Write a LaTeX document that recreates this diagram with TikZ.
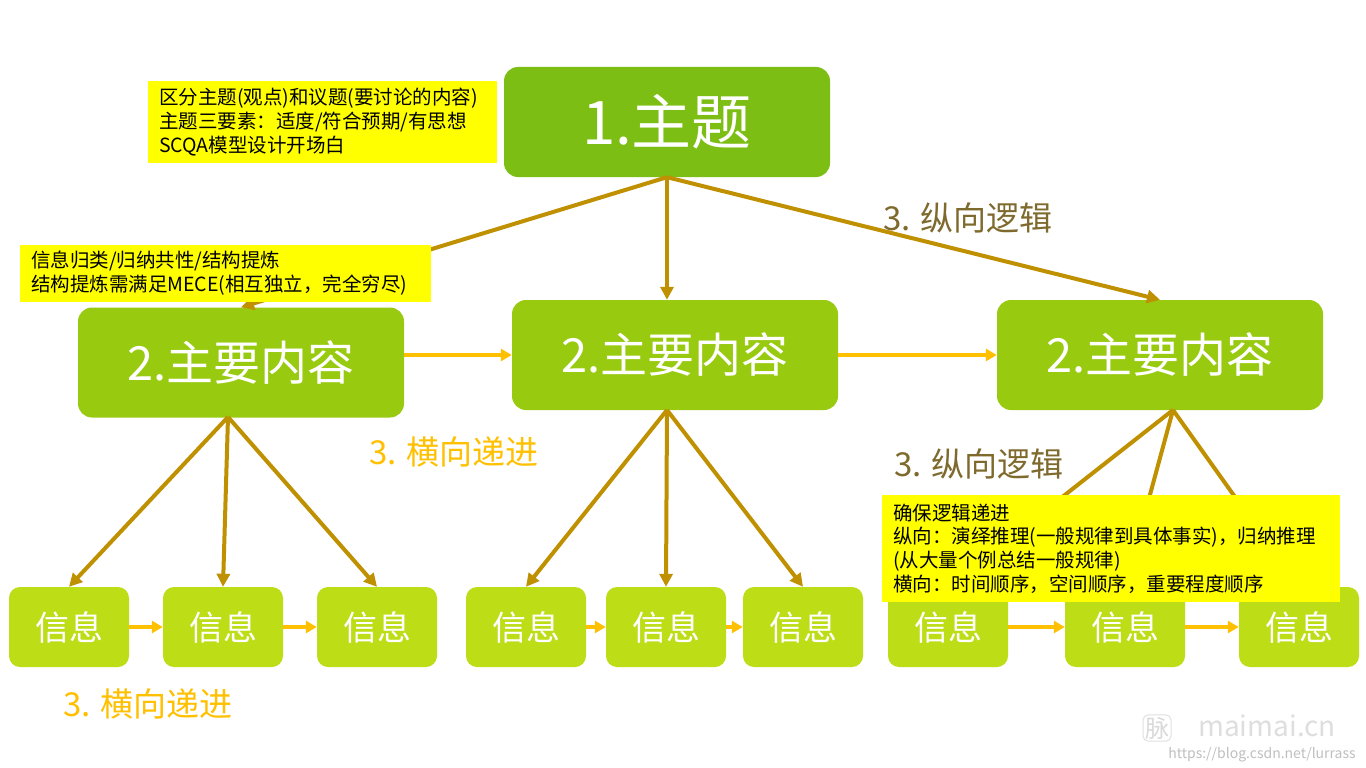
\documentclass[tikz,border=0pt]{standalone}
\usepackage{fontspec}
\setmainfont{Noto Sans CJK SC}
\usetikzlibrary{arrows.meta}
\definecolor{topicgreen}{HTML}{7DBE14}
\definecolor{maingreen}{HTML}{98CA10}
\definecolor{infogreen}{HTML}{BDDD17}
\definecolor{notefill}{HTML}{FFFF00}
\definecolor{vgold}{HTML}{BF9000}
\definecolor{hgold}{HTML}{FFC000}
\definecolor{vlabel}{HTML}{7F6A2E}

\begin{document}
\begin{tikzpicture}[x=1pt, y=-1pt,
    topicbox/.style={fill=topicgreen, rounded corners=14pt, text=white, minimum width=326pt, minimum height=110pt, inner sep=0pt, font=\fontsize{60}{62}\selectfont},
    mainbox/.style={fill=maingreen, rounded corners=14pt, text=white, minimum width=326pt, minimum height=110pt, inner sep=0pt, font=\fontsize{47}{50}\selectfont},
    infobox/.style={fill=infogreen, rounded corners=11pt, text=white, minimum width=120pt, minimum height=80pt, inner sep=0pt, font=\fontsize{34}{36}\selectfont},
    note/.style={fill=notefill, inner xsep=11pt, inner ysep=0pt, align=left, font=\fontsize{19.5}{24}\selectfont},
    vlink/.style={draw=vgold, line width=4pt, -{Triangle[length=13pt, width=13pt]}},
    hlink/.style={draw=hgold, line width=4pt, -{Triangle[length=11pt, width=12pt]}},
    vtag/.style={text=vlabel, font=\fontsize{33}{36}\selectfont},
    htag/.style={text=hgold, font=\fontsize{33}{36}\selectfont}]
  \useasboundingbox[fill=white] (0,0) rectangle (1366,768);

  % boxes
  \node[topicbox] (topic) at (667,122) {1.主题};
  \node[mainbox] (main1) at (241,362.5) {2.主要内容};
  \node[mainbox] (main2) at (675,355) {2.主要内容};
  \node[mainbox] (main3) at (1160,355) {2.主要内容};
  \foreach \n/\x in {1/69, 2/223, 3/377, 4/526, 5/666, 6/803, 7/948, 8/1125, 9/1299} {
    \node[infobox] (info\n) at (\x,627) {信息};
  }

  % arrows
  \draw[vlink] (topic.south) -- (main1.north);
  \draw[vlink] (topic.south) -- (topic.south |- main2.north);
  \draw[vlink] (topic.south) -- (main3.north);
  \draw[hlink] (main1.east |- main2.west) -- (main2.west);
  \draw[hlink] (main2.east) -- (main3.west);

  \coordinate (fan1) at (228,417);
  \coordinate (fan2) at (667,410);
  \coordinate (fan3) at (1173,410);
  \foreach \g/\k in {1/1, 1/2, 1/3, 2/4, 2/5, 2/6, 3/7, 3/8, 3/9} {
    \draw[vlink] (fan\g) -- (info\k.north);
  }
  \foreach \a/\b in {1/2, 2/3, 4/5, 5/6, 7/8, 8/9} {
    \draw[hlink] (info\a) -- (info\b);
  }

  % labels
  \node[vtag] (vtag1) at (968,218) {3. 纵向逻辑};
  \node[vtag] (vtag2) at (979,464) {3. 纵向逻辑};
  \node[htag] (htag1) at (454,452) {3. 横向递进};
  \node[htag] (htag2) at (148,704) {3. 横向递进};

  % notes
  \node[note, minimum width=349pt, minimum height=82pt, text width=327pt] (note1) at (322.5,122)
    {区分主题(观点)和议题(要讨论的内容)\\主题三要素：适度/符合预期/有思想\\SCQA模型设计开场白};
  \node[note, minimum width=411pt, minimum height=57pt, text width=389pt] (note2) at (225.5,273.5)
    {信息归类/归纳共性/结构提炼\\结构提炼需满足MECE(相互独立，完全穷尽)};
  \node[note, minimum width=458pt, minimum height=107pt, text width=436pt, font=\fontsize{19.5}{23.7}\selectfont] (note3) at (1111,548.5)
    {确保逻辑递进\\纵向：演绎推理(一般规律到具体事实)，归纳推理\\(从大量个例总结一般规律)\\横向：时间顺序，空间顺序，重要程度顺序};

  % watermark
  \node[draw=black!12, line width=1pt, rounded corners=5pt, text=black!15, inner sep=2pt, font=\fontsize{24}{26}\selectfont] (wmlogo) at (1157,728) {脉};
  \node[text=black!13, font=\fontsize{28}{30}\selectfont] (wmsite) at (1267,726) {maimai.cn};
  \node[text=black!25, font=\fontsize{14}{15}\selectfont] (wmurl) at (1262,755) {https://blog.csdn.net/lurrass};
\end{tikzpicture}
\end{document}
